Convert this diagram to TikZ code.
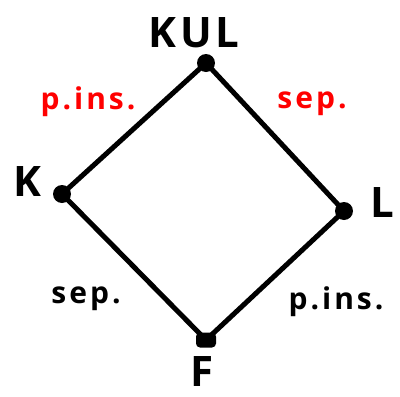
\documentclass[tikz,border=0pt]{standalone}
\usepackage{fontspec}
\setmainfont{Open Sans}
\begin{document}
\begin{tikzpicture}[x=1pt,y=-1pt,
  edge/.style={line width=5pt,line cap=round},
  dot/.style={circle,fill=black,inner sep=0pt,minimum size=18pt},
  fdot/.style={rounded corners=4pt,fill=black,inner sep=0pt,minimum width=20pt,minimum height=15pt},
  big/.style={font=\fontsize{42}{42}\selectfont\bfseries, inner sep=0pt},
  lab/.style={font=\fontsize{30}{30}\selectfont\bfseries\addfontfeature{LetterSpace=10}, inner sep=0pt}]
\useasboundingbox (0,0) rectangle (400,397);
\node[dot] (kul) at (206,63) {};
\node[dot] (k) at (62,194) {};
\node[dot] (l) at (344,211) {};
\node[fdot] (f) at (206,340) {};
\draw[edge] (kul.center) -- (k.center) -- (f.center) -- (l.center) -- (kul.center);
\node[big,font=\fontsize{42}{42}\selectfont\bfseries\addfontfeature{LetterSpace=8}] (tkul) at (194,33) {KUL};
\node[big] (tk) at (27,182) {K};
\node[big] (tl) at (382,203) {L};
\node[big] (tf) at (202,372) {F};
\node[lab,text=red] (e1) at (88,102) {p.ins.};
\node[lab,text=red] (e2) at (312,104) {sep.};
\node[lab] (e3) at (86,299) {sep.};
\node[lab] (e4) at (336,302) {p.ins.};
\end{tikzpicture}
\end{document}
